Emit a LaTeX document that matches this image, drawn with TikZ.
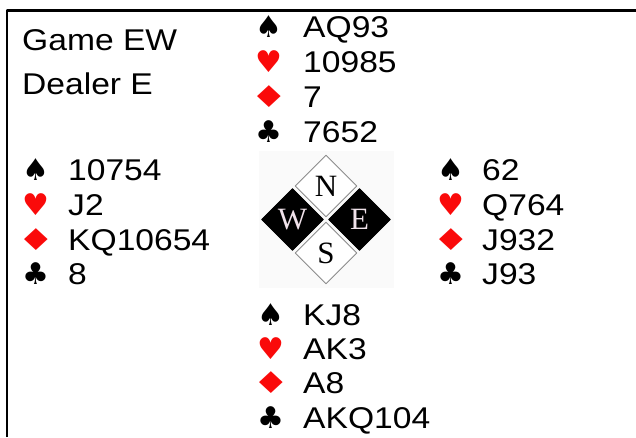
\documentclass[tikz,border=0pt]{standalone}
\usepackage{graphicx}
\usepackage{fontspec}
\setmainfont{Liberation Sans}[FakeStretch=1.12]
\newfontfamily\suitfont{DejaVu Sans}
\newfontfamily\compassfont{Liberation Serif}
\usetikzlibrary{shapes.geometric}
\definecolor{suitred}{RGB}{250,10,10}
\definecolor{letterpink}{RGB}{240,226,234}
\newcommand{\diam}{\scalebox{1.4}[1]{♦}}
\tikzset{
  card/.style={anchor=base west, inner sep=0pt, font=\fontsize{30}{36}\selectfont},
  suit/.style={anchor=base, inner sep=0pt, font=\suitfont\fontsize{30}{34}\selectfont},
  redsuit/.style={suit, text=suitred},
  lightsq/.style={shape=diamond, aspect=1, minimum width=62pt, minimum height=62pt, inner sep=0pt,
    fill=white, draw=black!45, line width=0.9pt, font=\compassfont\fontsize{31}{34}\selectfont},
  darksq/.style={lightsq, fill=black, draw=black, text=letterpink}
}
\begin{document}
\begin{tikzpicture}[x=1pt, y=-1pt, line join=round]
\useasboundingbox (0,0) rectangle (636,437);
\draw[line width=2.6pt] (7,437) -- (7,10.5) -- (636,10.5);
\node[card] (game) at (22,50) {Game EW};
\node[card] (dealer) at (22,94) {Dealer E};
% north
\node[suit] (ns) at (269,37) {♠};     \node[card] (nS) at (303,37) {AQ93};
\node[redsuit] (nh) at (269,72) {♥};  \node[card] (nH) at (303,72) {10985};
\node[redsuit] (nd) at (269,107) {\diam};\node[card] (nD) at (303,107) {7};
\node[suit] (nc) at (269,142) {♣};    \node[card] (nC) at (303,142) {7652};
% west
\node[suit] (ws) at (36,180) {♠};     \node[card] (wS) at (68,180) {10754};
\node[redsuit] (wh) at (36,215) {♥};  \node[card] (wH) at (68,215) {J2};
\node[redsuit] (wd) at (36,250) {\diam};\node[card] (wD) at (68,250) {KQ10654};
\node[suit] (wc) at (36,284) {♣};     \node[card] (wC) at (68,284) {8};
% east
\node[suit] (es) at (451,180) {♠};     \node[card] (eS) at (482,180) {62};
\node[redsuit] (eh) at (451,215) {♥};  \node[card] (eH) at (482,215) {Q764};
\node[redsuit] (ed) at (451,250) {\diam};\node[card] (eD) at (482,250) {J932};
\node[suit] (ec) at (451,284) {♣};     \node[card] (eC) at (482,284) {J93};
% south
\node[suit] (ss) at (271,325) {♠};     \node[card] (sS) at (303,325) {KJ8};
\node[redsuit] (sh) at (271,359) {♥};  \node[card] (sH) at (303,359) {AK3};
\node[redsuit] (sd) at (271,393) {\diam};\node[card] (sD) at (303,393) {A8};
\node[suit] (sc) at (271,428) {♣};     \node[card] (sC) at (303,428) {AKQ104};
% compass
\fill[black!2] (259,151) rectangle (394,288);
\node[lightsq] (north) at (326,186) {N};
\node[darksq] (west) at (292.5,219.5) {W};
\node[darksq] (east) at (359.5,219.5) {E};
\node[lightsq] (south) at (326,253) {S};
\end{tikzpicture}
\end{document}
